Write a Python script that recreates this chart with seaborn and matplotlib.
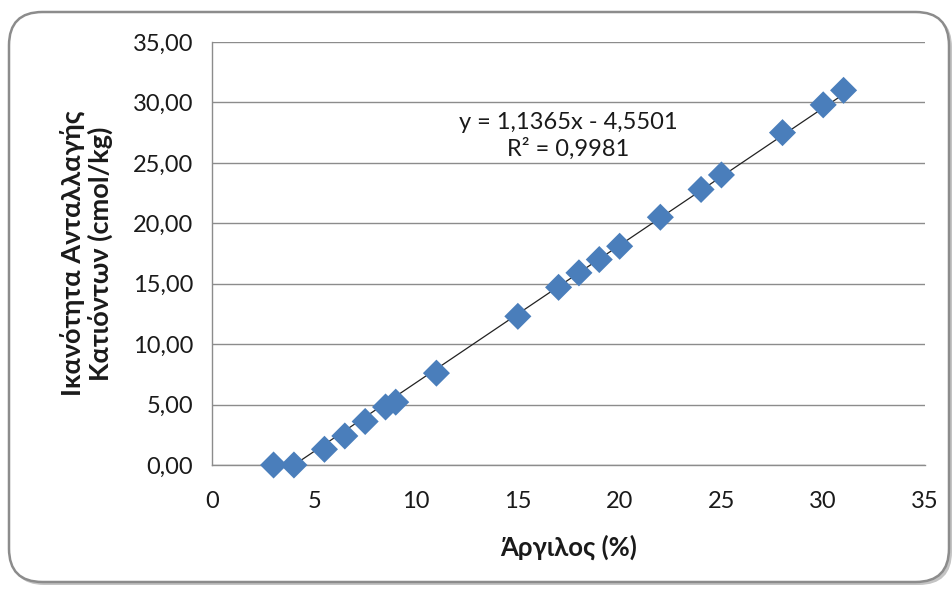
import numpy as np
import pandas as pd
import matplotlib
matplotlib.use("Agg")
import matplotlib.pyplot as plt
from matplotlib.patches import FancyBboxPatch
import seaborn as sns

# ---- data ----
clay = [3, 4, 5.5, 6.5, 7.5, 8.5, 9, 11, 15, 17, 18, 19, 20, 22, 24, 25, 28, 30, 31]
cec = [0.0, 0.0, 1.3, 2.4, 3.6, 4.8, 5.2, 7.6, 12.3, 14.7, 15.9, 17.0, 18.1,
       20.5, 22.8, 24.0, 27.5, 29.8, 31.0]
slope = 1.1365
intercept = -4.5501
r2 = 0.9981
x_ticks = [0, 5, 10, 15, 20, 25, 30, 35]
y_ticks = [0, 5, 10, 15, 20, 25, 30, 35]
x_label = "Άργιλος (%)"
y_label = "Ικανότητα Ανταλλαγής\nΚατιόντων (cmol/kg)"

df = pd.DataFrame({"clay": clay, "cec": cec})

sns.set_theme(style="white")
plt.rcParams["font.family"] = ["Lato", "Noto Sans", "DejaVu Sans"]

fig = plt.figure(figsize=(9.53, 5.90), dpi=100)
W, H = 953, 590

# chart frame with shadow
shadow = FancyBboxPatch((11 / W, 5 / H), 941 / W, 571 / H,
                        boxstyle="round,pad=0,rounding_size=0.035",
                        transform=fig.transFigure, facecolor="#c4c4c4",
                        edgecolor="none", zorder=0, mutation_aspect=W / H)
fig.patches.append(shadow)
frame = FancyBboxPatch((9 / W, 8 / H), 940 / W, 570 / H,
                       boxstyle="round,pad=0,rounding_size=0.035",
                       transform=fig.transFigure, facecolor="white",
                       edgecolor="#8c8c8c", linewidth=1.8, zorder=1,
                       mutation_aspect=W / H)
fig.patches.append(frame)

ax = fig.add_axes([212.5 / W, 1 - 465 / H, (925 - 212.5) / W, (465 - 42) / H])
ax.set_facecolor("none")
ax.set_zorder(2)

ax.set_xlim(0, 35)
ax.set_ylim(0, 35)
ax.set_xticks(x_ticks)
ax.set_yticks(y_ticks)
ax.set_xticklabels([str(v) for v in x_ticks])
ax.set_yticklabels([f"{v:.2f}".replace(".", ",") for v in y_ticks])

ax.yaxis.grid(True, color="#8c8c8c", linewidth=1.0)
ax.xaxis.grid(False)
ax.set_axisbelow(True)
for s in ["top", "right"]:
    ax.spines[s].set_visible(False)
for s in ["left", "bottom"]:
    ax.spines[s].set_color("#8c8c8c")
    ax.spines[s].set_linewidth(1.0)
ax.tick_params(axis="both", direction="out", length=6, width=1.0,
               color="#8c8c8c", labelsize=17, labelcolor="#1a1a1a")
ax.tick_params(axis="y", pad=8)
ax.tick_params(axis="x", pad=13)

# trendline
xs = np.array([min(clay), max(clay)])
ax.plot(xs, slope * xs + intercept, color="#222222", linewidth=0.9, zorder=2)

sns.scatterplot(data=df, x="clay", y="cec", marker="D", s=190,
                color="#4a7ebb", edgecolor="none", ax=ax, zorder=3,
                clip_on=False, legend=False)

ax.set_xlabel(x_label, fontsize=18.5, fontweight="bold", color="#1a1a1a",
              labelpad=16)
ax.set_ylabel(y_label, fontsize=19.5, fontweight="bold", color="#1a1a1a",
              labelpad=14, linespacing=1.12)

sgn = "-" if intercept < 0 else "+"
eq = (f"y = {slope:.4f}x {sgn} {abs(intercept):.4f}".replace(".", ",") +
      "\n" + f"R² = {r2:.4f}".replace(".", ","))
fig.text(568 / W, 1 - 136 / H, eq, ha="center", va="center", fontsize=17,
         color="#1a1a1a", linespacing=1.3, zorder=4)

fig.savefig("out.png", dpi=100)
